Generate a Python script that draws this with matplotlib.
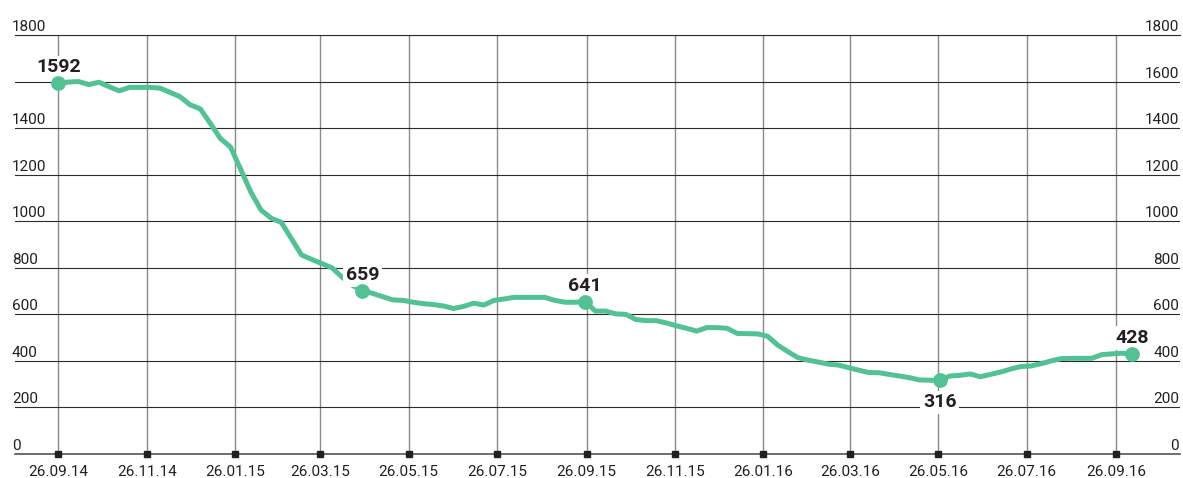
import matplotlib
matplotlib.use("Agg")
import matplotlib.pyplot as plt
import matplotlib.dates as mdates
import matplotlib.transforms as mtransforms
import pandas as pd

START_DATE = "2014-09-26"

# weekly values, starting 26.09.14
weekly_values = [
    1592, 1598, 1600, 1587, 1597, 1578, 1560, 1575, 1575, 1575,
    1572, 1554, 1535, 1500, 1483, 1420, 1355, 1318, 1222, 1125,
    1048, 1013, 995, 925, 855, 836, 818, 800, 760, 725,
    702, 690, 676, 662, 660, 652, 646, 642, 636, 625,
    634, 648, 640, 660, 666, 673, 673, 673, 673, 660,
    652, 652, 654, 614, 614, 602, 600, 578, 573, 573,
    563, 551, 540, 528, 543, 543, 540, 518, 517, 516,
    506, 468, 440, 414, 403, 395, 386, 382, 371, 360,
    350, 349, 342, 335, 328, 318, 317, 316, 335, 338,
    344, 332, 342, 352, 365, 376, 378, 388, 400, 410,
    411, 411, 411, 427, 430, 433, 428,
]

highlight_weeks = [0, 30, 52, 87, 106]
highlight_labels = ["1592", "659", "641", "316", "428"]
label_below = [False, False, False, True, False]

tick_dates = [
    "2014-09-26", "2014-11-26", "2015-01-26", "2015-03-26", "2015-05-26",
    "2015-07-26", "2015-09-26", "2015-11-26", "2016-01-26", "2016-03-26",
    "2016-05-26", "2016-07-26", "2016-09-26",
]
y_ticks = [0, 200, 400, 600, 800, 1000, 1200, 1400, 1600, 1800]
# the left 1600 is hidden behind the 1592 callout in the original
left_y_labels = [0, 200, 400, 600, 800, 1000, 1200, 1400, 1800]

LINE_COLOR = "#52c193"
TEXT_COLOR = "#231f20"

plt.rcParams["font.family"] = ["Roboto", "DejaVu Sans"]

dates = pd.date_range(START_DATE, periods=len(weekly_values), freq="7D")
series = pd.Series(weekly_values, index=dates)
ticks = pd.to_datetime(tick_dates)

fig = plt.figure(figsize=(11.83, 4.78), dpi=100)
ax = fig.add_axes([15 / 1183, 24 / 478, 1165 / 1183, 419 / 478])

ax.plot(series.index, series.values, color=LINE_COLOR, linewidth=3.6,
        solid_joinstyle="round", solid_capstyle="round", zorder=3)

hl_dates = series.index[highlight_weeks]
hl_vals = series.values[highlight_weeks]
ax.plot(hl_dates, hl_vals, "o", color=LINE_COLOR, markersize=9.6, zorder=5)

for d, v, lab, below in zip(hl_dates, hl_vals, highlight_labels, label_below):
    ax.annotate(lab, (d, v), xytext=(0, -13 if below else 11),
                textcoords="offset pixels", ha="center",
                va="top" if below else "baseline",
                fontsize=14, fontweight="bold", color=TEXT_COLOR, zorder=4,
                bbox=dict(boxstyle="square,pad=0.15", fc="white", ec="none"))

ax.set_ylim(0, 1800)
ax.set_xlim(pd.Timestamp(START_DATE) - pd.Timedelta(days=30),
            pd.Timestamp(START_DATE) + pd.Timedelta(days=775))

ax.set_xticks(ticks)
ax.xaxis.set_major_formatter(mdates.DateFormatter("%d.%m.%y"))
ax.set_yticks(y_ticks)
ax.set_yticklabels([])
ax.tick_params(axis="y", length=0)
ax.tick_params(axis="x", length=0, pad=8, labelsize=11, labelcolor=TEXT_COLOR)

# square tick marks on the baseline
ax.plot(ticks, [0] * len(ticks), "s", color=TEXT_COLOR, markersize=4.6,
        clip_on=False, zorder=6)

ax.xaxis.grid(True, color="#8a8a8a", linewidth=1.0)
ax.yaxis.grid(True, color="#2b2b2b", linewidth=0.8)
ax.set_axisbelow(True)

for side in ["left", "right"]:
    ax.spines[side].set_visible(False)
ax.spines["top"].set_color("#2b2b2b")
ax.spines["top"].set_linewidth(0.8)
ax.spines["bottom"].set_color("#555555")
ax.spines["bottom"].set_linewidth(1.2)

# y labels sit just above the gridlines, on both sides
blend = mtransforms.blended_transform_factory(ax.transAxes, ax.transData)
left_tr = mtransforms.offset_copy(blend, fig=fig, x=-3, y=4, units="dots")
right_tr = mtransforms.offset_copy(blend, fig=fig, x=-1, y=4, units="dots")
for v in left_y_labels:
    ax.text(0, v, str(v), transform=left_tr, ha="left", va="baseline",
            fontsize=11, color=TEXT_COLOR)
for v in y_ticks:
    ax.text(1, v, str(v), transform=right_tr, ha="right", va="baseline",
            fontsize=11, color=TEXT_COLOR)

fig.savefig("out.png", dpi=100)
